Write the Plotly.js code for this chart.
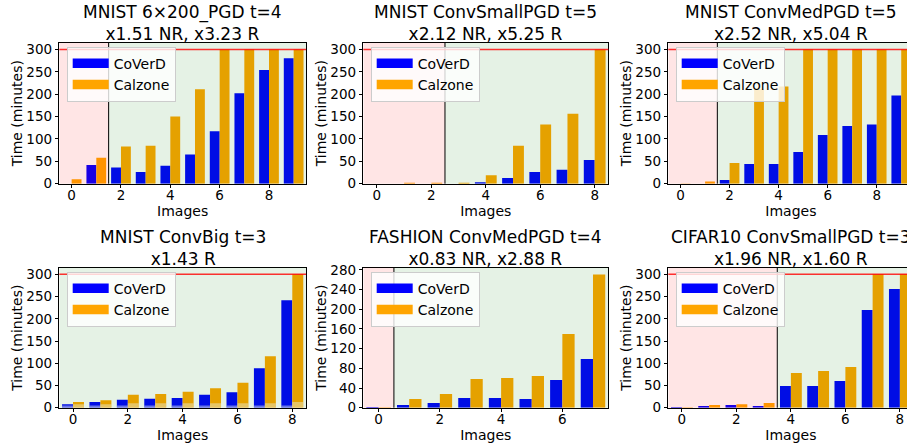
<!DOCTYPE html>
<html>
<head>
<meta charset="utf-8">
<script src="https://cdn.plot.ly/plotly-3.0.1.min.js"></script>
<style>
html, body { margin: 0; padding: 0; overflow: hidden; background: #fff; }
#chart { width: 920px; height: 445px; }
</style>
</head>
<body>
<div id="chart"></div>
<script>
// ---------------- data ----------------
const titles = [
  "MNIST 6×200_PGD t=4<br>x1.51 NR, x3.23 R",
  "MNIST ConvSmallPGD t=5<br>x2.12 NR, x5.25 R",
  "MNIST ConvMedPGD t=5<br>x2.52 NR, x5.04 R",
  "MNIST ConvBig t=3<br>x1.43 R",
  "FASHION ConvMedPGD t=4<br>x0.83 NR, x2.88 R",
  "CIFAR10 ConvSmallPGD t=3<br>x1.96 NR, x1.60 R"
];
const seriesNames = ["CoVerD", "Calzone"];

const p1_coverd  = [0, 42, 36, 26, 40, 65, 117, 202, 254, 280];
const p1_calzone = [10, 58, 83, 85, 150, 211, 300, 300, 300, 300];

const p2_coverd  = [0, 0, 0, 0, 3, 13, 26, 31, 53];
const p2_calzone = [0, 2, 2, 2, 19, 85, 132, 156, 300];

const p3_coverd  = [0, 0, 8, 44, 44, 71, 109, 129, 132, 197];
const p3_calzone = [0.5, 5, 46, 212, 217, 300, 300, 300, 300, 300];

const p4_coverd  = [7.5, 13, 18, 20, 22, 29, 35, 89, 242];
const p4_calzone = [13, 17, 29, 31, 36, 44, 56, 116, 300];
const p4_coverd_light  = [5, 5, 5, 5, 5, 5, 5, 5, 5];
const p4_calzone_light = [8, 8, 10, 10, 10, 10, 10, 10, 13];

const p5_coverd  = [1.4, 5.4, 9.5, 19.7, 19.7, 17.6, 56.3, 99];
const p5_calzone = [0.7, 17.6, 27.8, 58.3, 60.3, 64.4, 149.8, 271];

const p6_coverd  = [1.5, 4, 6, 4, 49, 49, 60, 220, 267];
const p6_calzone = [1, 6, 8, 10.5, 78, 82.5, 91.5, 300, 300];

// separator between "not robust" (red) and "robust" (green) images
const separators = [1.5, 2.5, 1.5, -0.5, 0.5, 3.5];
const timeout = 300;
const yMaxes = [315, 315, 315, 315, 284.6, 315];
const yDticks = [50, 50, 50, 50, 40, 50];

const coverdSets  = [p1_coverd, p2_coverd, p3_coverd, p4_coverd, p5_coverd, p6_coverd];
const calzoneSets = [p1_calzone, p2_calzone, p3_calzone, p4_calzone, p5_calzone, p6_calzone];
const lightSets = {3: [p4_coverd_light, p4_calzone_light]};

// ---------------- layout geometry ----------------
const W = 920, H = 445;
const colPx = [[59.3, 306], [363.3, 608.3], [668.3, 913.5]];
const rowPx = [[42.7, 183.7], [267.7, 407.7]];
const FONT = "DejaVu Sans, Liberation Sans, sans-serif";
const BLUE = "#0000ff", ORANGE = "#ffa500";

const traces = [];
const layout = {
  width: W, height: H,
  margin: {l: 0, r: 0, t: 0, b: 0},
  paper_bgcolor: "#fff", plot_bgcolor: "#fff",
  barmode: "overlay",
  font: {family: FONT, size: 13.5, color: "#000"},
  shapes: [], annotations: []
};

for (let i = 0; i < 6; i++) {
  const s = i === 0 ? "" : String(i + 1);
  const xa = "x" + s, ya = "y" + s;
  const col = i % 3, row = Math.floor(i / 3);
  const cov = coverdSets[i], cal = calzoneSets[i];
  const n = cov.length;
  const imgs = cov.map((_, k) => k);

  traces.push({type: "bar", x: imgs, y: cov, offset: -0.4, width: 0.4,
    marker: {color: BLUE, line: {width: 0}}, xaxis: xa, yaxis: ya, showlegend: false, hoverinfo: "skip"});
  traces.push({type: "bar", x: imgs, y: cal, offset: 0, width: 0.4,
    marker: {color: ORANGE, line: {width: 0}}, xaxis: xa, yaxis: ya, showlegend: false, hoverinfo: "skip"});
  if (lightSets[i]) {
    traces.push({type: "bar", x: imgs, y: lightSets[i][0], offset: -0.4, width: 0.4,
      marker: {color: "rgba(255,255,255,0.45)", line: {width: 0}}, xaxis: xa, yaxis: ya, showlegend: false, hoverinfo: "skip"});
    traces.push({type: "bar", x: imgs, y: lightSets[i][1], offset: 0, width: 0.4,
      marker: {color: "rgba(255,255,255,0.45)", line: {width: 0}}, xaxis: xa, yaxis: ya, showlegend: false, hoverinfo: "skip"});
  }
  // legend proxies
  const lg = i === 0 ? "legend" : "legend" + (i + 1);
  [BLUE, ORANGE].forEach((c, k) => {
    traces.push({type: "scatter", mode: "lines", x: [null], y: [null], name: seriesNames[k],
      line: {color: c, width: 9.5}, xaxis: xa, yaxis: ya, legend: lg, showlegend: true});
  });

  const x0 = colPx[col][0] / W, x1 = colPx[col][1] / W;
  const y0 = 1 - rowPx[row][1] / H, y1 = 1 - rowPx[row][0] / H;

  layout["xaxis" + s] = {
    domain: [x0, x1], anchor: ya, range: [-0.5, n - 0.5],
    tickmode: "linear", tick0: 0, dtick: 2,
    ticks: "outside", ticklen: 3.5, tickwidth: 1, tickcolor: "#000",
    ticklabelstandoff: -4,
    showline: true, mirror: true, linecolor: "#000", linewidth: 1,
    showgrid: false, zeroline: false,
    tickfont: {size: 13.5},
    title: {text: "Images", font: {size: 14}, standoff: 2}
  };
  layout["yaxis" + s] = {
    domain: [y0, y1], anchor: xa, range: [0, yMaxes[i]],
    tickmode: "linear", tick0: 0, dtick: yDticks[i],
    ticks: "outside", ticklen: 3.5, tickwidth: 1, tickcolor: "#000",
    showline: true, mirror: true, linecolor: "#000", linewidth: 1,
    showgrid: false, zeroline: false,
    tickfont: {size: 13.5},
    title: {text: "Time (minutes)", font: {size: 14}, standoff: 0}
  };

  const sep = separators[i];
  // red (non-robust) span, green (robust) span
  if (sep > -0.5) {
    layout.shapes.push({type: "rect", xref: xa, yref: ya + " domain", x0: -0.5, x1: sep, y0: 0, y1: 1,
      fillcolor: "rgba(255,0,0,0.1)", line: {width: 0}, layer: "above"});
  }
  layout.shapes.push({type: "rect", xref: xa, yref: ya + " domain", x0: sep, x1: n - 0.5, y0: 0, y1: 1,
    fillcolor: "rgba(0,128,0,0.1)", line: {width: 0}, layer: "above"});
  if (sep > -0.5) {
    layout.shapes.push({type: "line", xref: xa, yref: ya + " domain", x0: sep, x1: sep, y0: 0, y1: 1,
      line: {color: "#000", width: 1}, layer: "above"});
  }
  if (timeout <= yMaxes[i]) {
    layout.shapes.push({type: "line", xref: xa + " domain", yref: ya, x0: 0, x1: 1, y0: timeout, y1: timeout,
      line: {color: "rgba(255,0,0,0.8)", width: 1.5}, layer: "above"});
  }

  layout.annotations.push({text: titles[i], xref: "paper", yref: "paper",
    x: (x0 + x1) / 2, y: y1 - 3 / H, xanchor: "center", yanchor: "bottom",
    showarrow: false, font: {size: 17, family: FONT}});

  layout[lg] = {
    x: (colPx[col][0] + 7.4) / W, y: 1 - (rowPx[row][0] + 4) / H,
    xanchor: "left", yanchor: "top",
    bgcolor: "rgba(255,255,255,0.8)", bordercolor: "#cccccc", borderwidth: 1,
    font: {size: 14, family: FONT}, itemwidth: 36, tracegroupgap: 0
  };
}

Plotly.newPlot("chart", traces, layout, {displayModeBar: false, staticPlot: true});
</script>
</body>
</html>
